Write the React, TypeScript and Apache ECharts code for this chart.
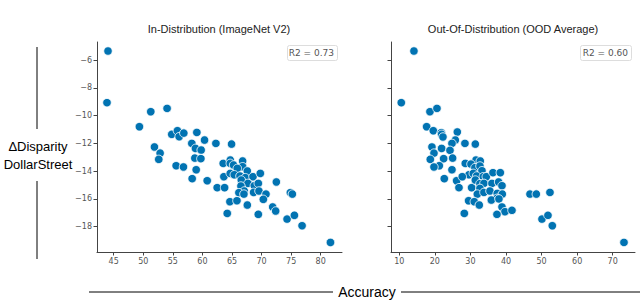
import React, { useEffect, useRef } from "react";
import * as echarts from "echarts";

const idAccuracy = [
  44.04, 43.87, 51.27, 54.03, 49.35, 54.82, 55.78, 56.07, 56.86, 59.06,
  60.36, 58.21, 62.28, 64.93, 51.89, 52.85, 52.62, 58.83, 59.79, 58.72,
  59.74, 55.56, 56.8, 58.95, 58.27, 60.81, 62.5, 63.75, 63.52, 64.71,
  64.71, 65.27, 66.8, 66.8, 65.9, 67.59, 63.63, 64.71, 65.39, 66.35,
  67.25, 66.57, 68.55, 69.79, 67.7, 66.51, 68.78, 69.45, 67.08, 66.17,
  67.02, 68.66, 69.56, 72.5, 70.75, 70.3, 74.87, 75.21, 64.65, 65.84,
  67.59, 71.88, 72.39, 64.2, 69.45, 74.31, 75.55, 76.85, 81.65,
];
const idDisparity = [
  -5.35, -9.07, -9.72, -9.48, -10.8, -11.35, -11.09, -11.52, -11.26, -11.21,
  -11.76, -12.0, -12.0, -12.05, -12.26, -12.7, -13.15, -12.36, -12.48, -13.06,
  -13.1, -13.61, -13.7, -13.9, -14.54, -14.69, -15.19, -15.19, -13.44, -13.2,
  -13.44, -13.56, -13.27, -13.68, -13.8, -13.99, -14.4, -14.16, -14.26, -14.35,
  -14.47, -14.64, -14.4, -14.16, -14.88, -15.07, -15.05, -14.88, -15.43, -15.55,
  -15.65, -15.53, -15.43, -14.78, -15.65, -16.03, -15.55, -15.65, -16.2, -16.13,
  -16.44, -16.58, -16.87, -17.04, -17.11, -17.45, -17.18, -17.93, -19.13,
];

const oodAccuracy = [
  14.12, 10.56, 18.62, 20.59, 17.69, 19.56, 21.81, 21.9, 22.28, 26.31,
  25.75, 24.81, 28.46, 31.37, 19.18, 19.75, 18.72, 21.9, 24.25, 22.47,
  25.0, 21.25, 19.75, 24.81, 22.65, 26.12, 26.78, 30.34, 28.56, 31.56,
  30.15, 31.27, 32.77, 32.68, 33.24, 29.59, 27.71, 30.81, 31.74, 33.62,
  34.46, 31.37, 36.34, 38.4, 32.68, 33.8, 36.06, 37.93, 38.87, 32.68,
  31.93, 33.8, 35.49, 37.55, 38.96, 37.46, 35.87, 38.02, 29.49, 31.09,
  32.49, 38.87, 39.71, 41.68, 28.28, 37.46, 46.74, 48.52, 52.36, 50.11,
  51.8, 53.02, 73.17,
];
const oodDisparity = [
  -5.35, -9.07, -9.72, -9.48, -10.8, -11.09, -11.23, -11.35, -11.54, -11.18,
  -11.76, -12.0, -12.0, -12.05, -12.26, -12.7, -13.15, -12.36, -12.5, -13.1,
  -13.06, -13.61, -13.7, -13.9, -14.54, -14.69, -15.19, -15.19, -13.44, -13.2,
  -13.49, -13.75, -13.27, -13.63, -13.97, -14.26, -14.4, -14.16, -14.35, -14.4,
  -14.4, -14.64, -14.11, -14.11, -14.9, -14.88, -14.88, -14.78, -15.05, -15.24,
  -15.65, -15.53, -15.43, -15.6, -15.65, -15.96, -16.08, -16.0, -16.13, -16.2,
  -16.44, -16.58, -16.92, -16.82, -17.04, -17.11, -15.65, -15.65, -15.53, -17.45,
  -17.18, -17.93, -19.13,
];

const idTicks = [45, 50, 55, 60, 65, 70, 75, 80];
const oodTicks = [10, 20, 30, 40, 50, 60, 70];
const yTicks = [-18, -16, -14, -12, -10, -8, -6];

const titles = ["In-Distribution (ImageNet V2)", "Out-Of-Distribution (OOD Average)"];
const r2Labels = ["R2 = 0.73", "R2 = 0.60"];

const fmt = (v: number) => (v < 0 ? "\u2212" + Math.abs(v) : String(v));

export default function App() {
  const ref = useRef<HTMLDivElement>(null);
  useEffect(() => {
    document.body.style.margin = "0";
    const chart = echarts.init(ref.current!, null, { renderer: "svg" });
    const axisLine = { show: true, lineStyle: { color: "#444", width: 1 } };
    const tickLabel = { color: "#555", fontSize: 8, fontFamily: "DejaVu Sans", margin: 5 };
    const mkX = (gridIndex: number, min: number, max: number, ticks: number[]) => ({
      type: "value",
      gridIndex,
      min,
      max,
      splitLine: { show: false },
      axisLine,
      axisTick: { show: true, length: 3.5, lineStyle: { color: "#444" }, customValues: ticks },
      axisLabel: { ...tickLabel, customValues: ticks, formatter: fmt },
    });
    const mkY = (gridIndex: number, showLabels: boolean) => ({
      type: "value",
      gridIndex,
      min: -19.82,
      max: -4.7,
      splitLine: { show: false },
      axisLine,
      axisTick: { show: true, length: 3.5, lineStyle: { color: "#444" }, customValues: yTicks },
      axisLabel: { ...tickLabel, show: showLabels, customValues: yTicks, formatter: fmt },
    });
    const pointStyle = { color: "#0173b2", opacity: 1, borderColor: "#ffffff", borderWidth: 0.8 };
    const lineStyle = { stroke: "#000", lineWidth: 1 };
    chart.setOption({
      animation: false,
      grid: [
        { left: 97, top: 42, width: 245, height: 210 },
        { left: 391, top: 42, width: 244, height: 210 },
      ],
      xAxis: [mkX(0, 42.18, 83.6, idTicks), mkX(1, 7.67, 76.27, oodTicks)],
      yAxis: [mkY(0, true), mkY(1, false)],
      series: [
        {
          type: "scatter",
          xAxisIndex: 0,
          yAxisIndex: 0,
          symbolSize: 8.5,
          itemStyle: pointStyle,
          data: idAccuracy.map((x, i) => [x, idDisparity[i]]),
        },
        {
          type: "scatter",
          xAxisIndex: 1,
          yAxisIndex: 1,
          symbolSize: 8.5,
          itemStyle: pointStyle,
          data: oodAccuracy.map((x, i) => [x, oodDisparity[i]]),
        },
      ],
      graphic: [
        {
          type: "text",
          x: 219,
          y: 29,
          style: { text: titles[0], fill: "#222", font: "11px 'Liberation Sans'", align: "center", verticalAlign: "middle" },
        },
        {
          type: "text",
          x: 513,
          y: 29,
          style: { text: titles[1], fill: "#222", font: "11px 'Liberation Sans'", align: "center", verticalAlign: "middle" },
        },
        { type: "rect", shape: { x: 287.5, y: 45.5, width: 50, height: 15, r: 2 }, style: { fill: "#fff", stroke: "#ddd", lineWidth: 1 } },
        {
          type: "text",
          x: 334,
          y: 53,
          style: { text: r2Labels[0], fill: "#555", font: "9px 'DejaVu Sans'", align: "right", verticalAlign: "middle" },
        },
        { type: "rect", shape: { x: 580.5, y: 45.5, width: 51, height: 15, r: 2 }, style: { fill: "#fff", stroke: "#ddd", lineWidth: 1 } },
        {
          type: "text",
          x: 628,
          y: 53,
          style: { text: r2Labels[1], fill: "#555", font: "9px 'DejaVu Sans'", align: "right", verticalAlign: "middle" },
        },
        { type: "line", shape: { x1: 37, y1: 47, x2: 37, y2: 129 }, style: lineStyle },
        { type: "line", shape: { x1: 37, y1: 181, x2: 37, y2: 259 }, style: lineStyle },
        {
          type: "text",
          x: 38,
          y: 155,
          style: {
            text: "\u0394Disparity\nDollarStreet",
            fill: "#000",
            font: "13px 'Liberation Sans'",
            lineHeight: 18,
            align: "center",
            verticalAlign: "middle",
          },
        },
        { type: "line", shape: { x1: 89, y1: 292, x2: 333, y2: 292 }, style: lineStyle },
        { type: "line", shape: { x1: 401, y1: 292, x2: 640, y2: 292 }, style: lineStyle },
        {
          type: "text",
          x: 367,
          y: 292,
          style: { text: "Accuracy", fill: "#000", font: "14px 'Liberation Sans'", align: "center", verticalAlign: "middle" },
        },
      ],
    });
    return () => chart.dispose();
  }, []);
  return <div ref={ref} style={{ width: 640, height: 300 }} />;
}
